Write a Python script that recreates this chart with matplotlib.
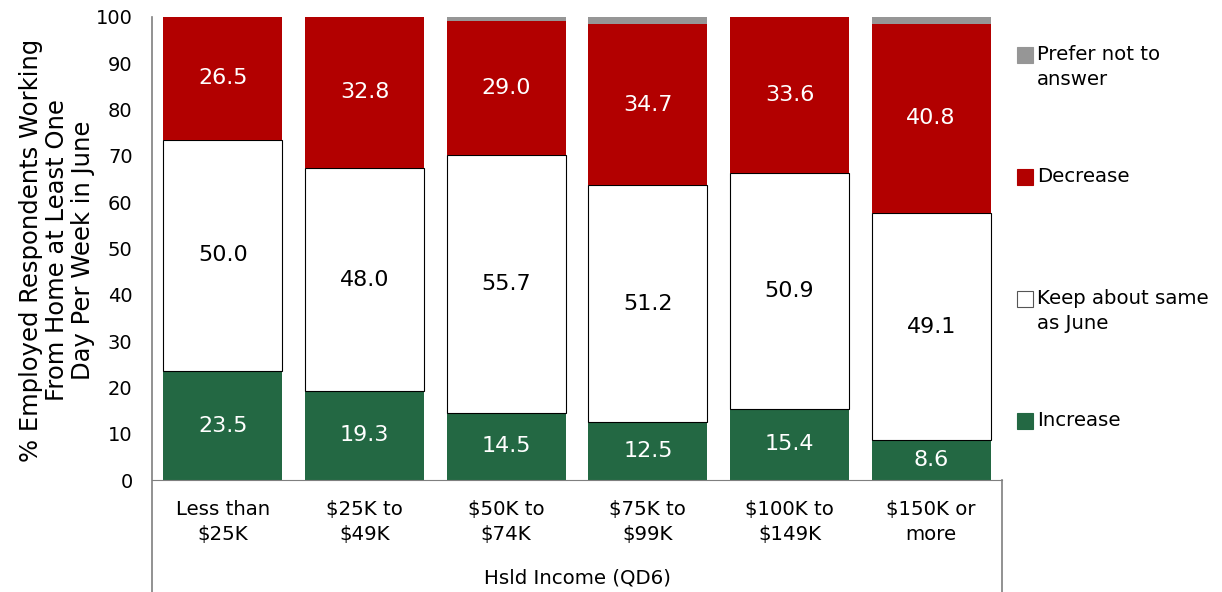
import numpy as np
import matplotlib.pyplot as plt
from matplotlib.patches import Rectangle
from matplotlib.lines import Line2D

plt.rcParams['font.family'] = ['DejaVu Sans']

# Hsld income groups and response shares (%)
categories = ["Less than\n$25K", "$25K to\n$49K", "$50K to\n$74K",
              "$75K to\n$99K", "$100K to\n$149K", "$150K or\nmore"]
increase = [23.5, 19.3, 14.5, 12.5, 15.4, 8.6]
keep_same = [50.0, 48.0, 55.7, 51.2, 50.9, 49.1]
decrease = [26.5, 32.8, 29.0, 34.7, 33.6, 40.8]
prefer_not = [0.0, 0.0, 0.8, 1.6, 0.1, 1.5]

green = "#236843"
red = "#B20000"
gray = "#969696"

fig = plt.figure(figsize=(12.22, 5.92), dpi=100)
ax = fig.add_axes([152/1222, 1 - 480/592, 850/1222, 463/592])

x = np.arange(len(categories))
w = 0.84
inc = np.array(increase)
keep = np.array(keep_same)
dec = np.array(decrease)
pna = np.array(prefer_not)

ax.bar(x, inc, w, color=green, linewidth=0)
ax.bar(x, keep, w, bottom=inc, color="white", edgecolor="black", linewidth=0.8)
ax.bar(x, dec, w, bottom=inc + keep, color=red, linewidth=0)
ax.bar(x, pna, w, bottom=inc + keep + dec, color=gray, linewidth=0)

vfs = 16
for i in range(len(x)):
    ax.text(x[i], inc[i] / 2, f"{inc[i]:.1f}", ha="center", va="center",
            color="white", fontsize=vfs)
    ax.text(x[i], inc[i] + keep[i] / 2, f"{keep[i]:.1f}", ha="center",
            va="center", color="black", fontsize=vfs)
    ax.text(x[i], inc[i] + keep[i] + dec[i] / 2, f"{dec[i]:.1f}", ha="center",
            va="center", color="white", fontsize=vfs)

ax.set_xlim(-0.5, len(x) - 0.5)
ax.set_ylim(0, 100)
ax.set_yticks(range(0, 101, 10))
ax.tick_params(axis="y", length=0, pad=14, labelsize=14)
ax.set_xticks([])
for s in ["top", "right", "left"]:
    ax.spines[s].set_visible(False)
ax.spines["bottom"].set_color("#7f7f7f")

fs = 14.2
# category labels below the axis
for i, c in enumerate(categories):
    ax.text(x[i], -4.3, c, ha="center", va="top", fontsize=fs,
            linespacing=1.38)

# frame lines around the category area
lc = "#7f7f7f"
fig.add_artist(Line2D([152/1222, 152/1222], [0, 1 - 17/592], color=lc, lw=1.2))
fig.add_artist(Line2D([1002/1222, 1002/1222], [0, 1 - 480/592], color=lc, lw=1.2))

fig.text(577/1222, 1 - 578/592, "Hsld Income (QD6)", ha="center",
         va="center", fontsize=fs)
fig.text(57/1222, 1 - 250/592,
         "% Employed Respondents Working\nFrom Home at Least One\nDay Per Week in June",
         ha="center", va="center", rotation=90, fontsize=17.5, linespacing=1.12)

# legend drawn by hand
legend_items = [("Prefer not to\nanswer", gray, 67),
                ("Decrease", red, 177),
                ("Keep about same\nas June", "white", 311),
                ("Increase", green, 421)]
for label, col, yc in legend_items:
    first_y = yc - 12 if "\n" in label else yc
    fig.add_artist(Rectangle((1017/1222, 1 - (first_y + 8)/592), 16/1222, 16/592,
                             facecolor=col, edgecolor="#555555" if col == "white" else col,
                             lw=0.8))
    fig.text(1037/1222, 1 - yc/592, label, ha="left", va="center",
             fontsize=fs, linespacing=1.38)

fig.savefig("out.png", dpi=100)
